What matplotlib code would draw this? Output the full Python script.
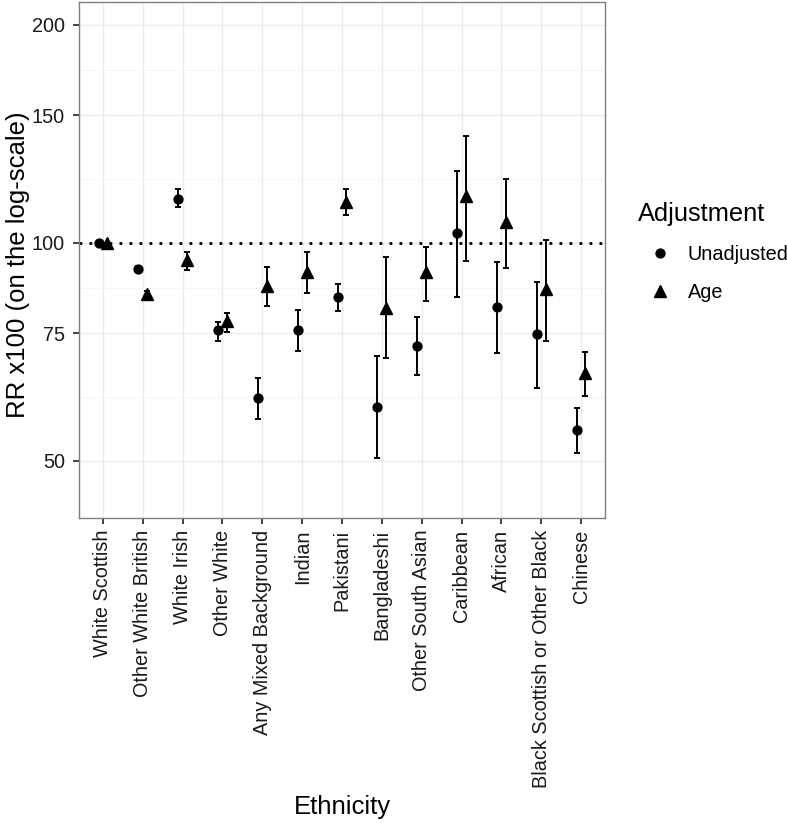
import numpy as np
import matplotlib
matplotlib.use("Agg")
import matplotlib.pyplot as plt
from matplotlib.lines import Line2D
from matplotlib.ticker import FixedLocator, FixedFormatter, NullFormatter

plt.rcParams["font.family"] = ["Liberation Sans", "DejaVu Sans"]

# --- data (RR x100) ---
ethnicity = ["White Scottish", "Other White British", "White Irish", "Other White",
             "Any Mixed Background", "Indian", "Pakistani", "Bangladeshi",
             "Other South Asian", "Caribbean", "African",
             "Black Scottish or Other Black", "Chinese"]

unadj_rr = [100, 92.1, 115.0, 75.7, 61.0, 75.7, 84.2, 59.4, 72.1, 103.1, 81.5, 74.9, 55.1]
unadj_lo = [100, 91.4, 111.9, 73.3, 57.2, 70.8, 80.6, 50.4, 65.7, 84.3, 70.4, 63.1, 51.3]
unadj_hi = [100, 92.8, 118.5, 77.7, 65.0, 80.9, 87.7, 69.8, 79.0, 125.8, 94.1, 88.3, 59.1]

age_rr = [100, 85.0, 94.7, 77.9, 87.2, 91.0, 114.0, 81.3, 91.0, 115.9, 106.7, 86.4, 66.2]
age_lo = [100, 84.3, 91.8, 75.3, 81.9, 85.2, 109.1, 69.3, 83.0, 94.5, 92.2, 73.3, 61.5]
age_hi = [100, 85.7, 97.1, 79.9, 92.7, 97.0, 118.5, 95.6, 98.8, 140.6, 122.6, 101.0, 70.6]

y_breaks = [50, 75, 100, 150, 200]


def main():
    fig = plt.figure(figsize=(7.87, 8.27), dpi=100)
    ax = fig.add_axes([79 / 787, 1 - 518 / 827, 526 / 787, 516 / 827])

    x = np.arange(len(ethnicity))
    dodge = 0.11

    # reference line at RR = 1
    ax.axhline(100, color="black", ls=(0, (1, 2.6)), lw=2.0, zorder=2)

    series = [
        (x - dodge, unadj_rr, unadj_lo, unadj_hi, "o", 6.4),
        (x + dodge, age_rr, age_lo, age_hi, "^", 8.0),
    ]
    for xs, rr, lo, hi, mk, ms in series:
        rr = np.array(rr)
        yerr = [rr - np.array(lo), np.array(hi) - rr]
        ax.errorbar(xs, rr, yerr=yerr, fmt=mk, ms=ms, color="black",
                    ecolor="black", elinewidth=1.4, capsize=2.2, capthick=1.4,
                    zorder=3)

    ax.set_yscale("log")
    ax.set_ylim(41.7, 215)
    ax.set_xlim(-0.6, len(ethnicity) - 0.4)

    ax.yaxis.set_major_locator(FixedLocator(y_breaks))
    ax.yaxis.set_major_formatter(FixedFormatter([str(b) for b in y_breaks]))
    minor = [np.sqrt(a * b) for a, b in zip(y_breaks[:-1], y_breaks[1:])]
    ax.yaxis.set_minor_locator(FixedLocator(minor))
    ax.yaxis.set_minor_formatter(NullFormatter())

    ax.set_xticks(x)
    ax.set_xticklabels(ethnicity, rotation=90, ha="center", va="top")

    # theme_bw look
    ax.grid(True, which="major", color="#ebebeb", lw=1.0, zorder=0)
    ax.grid(True, which="minor", axis="y", color="#f5f5f5", lw=0.8, zorder=0)
    ax.set_axisbelow(True)
    for s in ax.spines.values():
        s.set_color("#7f7f7f")
        s.set_linewidth(1.0)
    ax.tick_params(axis="both", which="major", length=4.5, width=1.3,
                   color="#333333", labelsize=14.3, labelcolor="#1a1a1a", pad=4)
    ax.tick_params(axis="y", which="major", pad=5.5)
    ax.tick_params(axis="y", which="minor", length=0)

    ax.set_xlabel("Ethnicity", fontsize=18.5)
    ax.xaxis.set_label_coords(0.5, -0.537)
    ax.set_ylabel("RR x100 (on the log-scale)", fontsize=18.5)
    ax.yaxis.set_label_coords(-0.094, 0.49)

    handles = [Line2D([], [], ls="none", marker="o", ms=6.4, color="black"),
               Line2D([], [], ls="none", marker="^", ms=8.0, color="black")]
    leg = fig.legend(handles, ["Unadjusted", "Age"], loc="upper left",
                     bbox_to_anchor=(638 / 787, 1 - 202 / 827), frameon=False,
                     title="Adjustment", fontsize=14.3, title_fontsize=18.3,
                     handlelength=2.2, handletextpad=0.3, labelspacing=0.95,
                     borderaxespad=0, borderpad=0)
    leg._legend_box.align = "left"

    fig.savefig("out.png", dpi=100)
    plt.close(fig)


if __name__ == "__main__":
    main()
